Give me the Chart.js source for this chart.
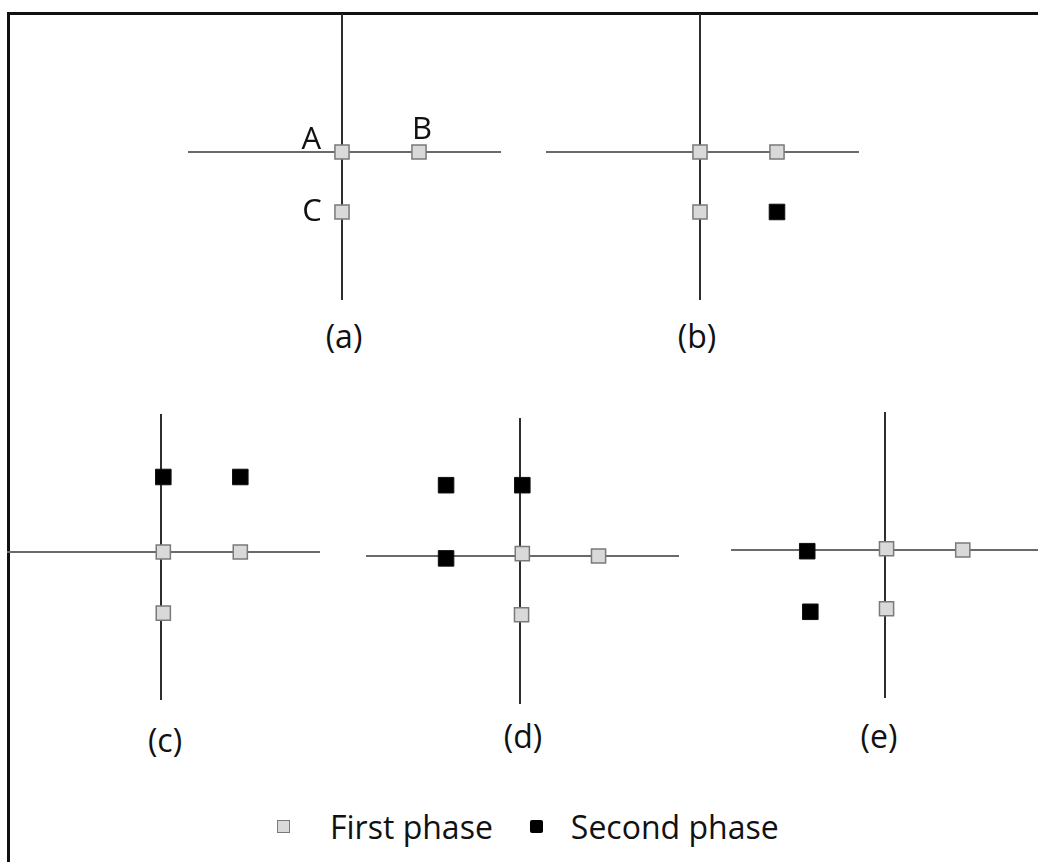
<!DOCTYPE html>
<html>
<head>
    <meta charset="UTF-8">
    <title>Phases</title>
    <script src="https://cdn.jsdelivr.net/npm/chart.js"></script>
    <style>
        * {
            font-family: "Open Sans", "Noto Sans", sans-serif;
        }
        html, body {
            margin: 0;
            padding: 0;
            width: 1038px;
            height: 862px;
            overflow: hidden;
            background: #fff;
        }
        .frame {
            position: absolute;
            left: 7px;
            top: 12px;
            width: 1100px;
            height: 900px;
            border-top: 3px solid #111;
            border-left: 3px solid #111;
        }
        .panel {
            position: absolute;
            width: 313px;
            height: 286px;
        }
        .caption {
            position: absolute;
            width: 100px;
            height: 40px;
            line-height: 40px;
            text-align: center;
            font-size: 32px;
            color: #111;
        }
        .legend {
            position: absolute;
            left: 277px;
            top: 804px;
            height: 44px;
            display: flex;
            align-items: center;
            font-size: 32px;
            color: #111;
        }
        .swatch {
            display: inline-block;
            box-sizing: border-box;
            width: 13px;
            height: 13px;
        }
    </style>
</head>
<body>
    <div class="frame"></div>
    <div id="panels"></div>
    <div class="legend" id="legend"></div>
    <script>
        // values in grid units: one step along each axis (origin at the crossing)
        const panelNames = ['(a)', '(b)', '(c)', '(d)', '(e)'];
        const seriesNames = ['First phase', 'Second phase'];

        const firstPhaseA = [{ x: 0, y: 0 }, { x: 1, y: 0 }, { x: 0, y: -1 }];
        const firstPhaseB = [{ x: 0, y: 0 }, { x: 1, y: 0 }, { x: 0, y: -1 }];
        const firstPhaseC = [{ x: 0.03, y: 0 }, { x: 1.03, y: 0 }, { x: 0.03, y: -1.02 }];
        const firstPhaseD = [{ x: 0.03, y: 0.04 }, { x: 1.02, y: 0 }, { x: 0.02, y: -0.98 }];
        const firstPhaseE = [{ x: 0.02, y: 0.02 }, { x: 1.01, y: 0 }, { x: 0.02, y: -0.98 }];

        const secondPhaseA = [];
        const secondPhaseB = [{ x: 1, y: -1 }];
        const secondPhaseC = [{ x: 0.03, y: 1.25 }, { x: 1.03, y: 1.25 }];
        const secondPhaseD = [{ x: -0.96, y: 1.18 }, { x: 0.03, y: 1.18 }, { x: -0.96, y: -0.04 }];
        const secondPhaseE = [{ x: -1.01, y: -0.02 }, { x: -0.97, y: -1.03 }];

        const pointLabels = ['A', 'B', 'C'];
        const pointLabelX = [-0.4, 1.04, -0.39];
        const pointLabelY = [0.2, 0.36, -1.0];

        const firstSets = [firstPhaseA, firstPhaseB, firstPhaseC, firstPhaseD, firstPhaseE];
        const secondSets = [secondPhaseA, secondPhaseB, secondPhaseC, secondPhaseD, secondPhaseE];

        // where each panel's crossing sits on the page
        const layout = [
            { cx: 342, cy: 152, lx: 344, ly: 336 },
            { cx: 700, cy: 152, lx: 697, ly: 336 },
            { cx: 161, cy: 552, lx: 165, ly: 740 },
            { cx: 520, cy: 556, lx: 523, ly: 736 },
            { cx: 885, cy: 550, lx: 879, ly: 736 }
        ];

        const X_MIN = -2, X_MAX = 2.065, Y_MIN = -2.467, Y_MAX = 2.3;
        const GRAY_FILL = '#d9d9d9', GRAY_EDGE = '#7a7a7a';

        const labelPlugin = {
            id: 'pointLabels',
            afterDatasetsDraw(chart, args, opts) {
                if (!opts.show) return;
                const { ctx, scales } = chart;
                ctx.save();
                ctx.font = '31px "Open Sans", "Noto Sans", sans-serif';
                ctx.fillStyle = '#111';
                ctx.textAlign = 'center';
                ctx.textBaseline = 'middle';
                pointLabels.forEach((t, i) => {
                    ctx.fillText(t, scales.x.getPixelForValue(pointLabelX[i]), scales.y.getPixelForValue(pointLabelY[i]));
                });
                ctx.restore();
            }
        };

        const panelsDiv = document.getElementById('panels');

        panelNames.forEach((name, i) => {
            const pos = layout[i];
            const box = document.createElement('div');
            box.className = 'panel';
            box.style.left = (pos.cx - 154) + 'px';
            box.style.top = (pos.cy - 138) + 'px';
            const canvas = document.createElement('canvas');
            box.appendChild(canvas);
            panelsDiv.appendChild(box);

            const cap = document.createElement('div');
            cap.className = 'caption';
            cap.style.left = (pos.lx - 50) + 'px';
            cap.style.top = (pos.ly - 20) + 'px';
            cap.innerText = name;
            panelsDiv.appendChild(cap);

            new Chart(canvas, {
                type: 'scatter',
                data: {
                    datasets: [{
                        label: seriesNames[0],
                        data: firstSets[i],
                        pointStyle: 'rect',
                        pointRadius: 10,
                        backgroundColor: GRAY_FILL,
                        borderColor: GRAY_EDGE,
                        borderWidth: 1.5
                    }, {
                        label: seriesNames[1],
                        data: secondSets[i],
                        pointStyle: 'rect',
                        pointRadius: 11,
                        backgroundColor: '#000',
                        borderColor: '#111',
                        borderWidth: 1
                    }]
                },
                options: {
                    responsive: true,
                    maintainAspectRatio: false,
                    animation: false,
                    events: [],
                    layout: { padding: 0, autoPadding: false },
                    plugins: {
                        legend: { display: false },
                        tooltip: { enabled: false },
                        pointLabels: { show: i === 0 }
                    },
                    scales: {
                        x: {
                            type: 'linear',
                            min: X_MIN,
                            max: X_MAX,
                            ticks: { display: false, stepSize: 1 },
                            border: { display: false },
                            grid: {
                                drawTicks: false,
                                lineWidth: 2,
                                color: (c) => c.tick && c.tick.value === 0 ? '#2e2e2e' : 'rgba(0,0,0,0)'
                            }
                        },
                        y: {
                            type: 'linear',
                            min: Y_MIN,
                            max: Y_MAX,
                            ticks: { display: false, stepSize: 1 },
                            border: { display: false },
                            grid: {
                                drawTicks: false,
                                lineWidth: 2,
                                color: (c) => c.tick && c.tick.value === 0 ? '#6a6a6a' : 'rgba(0,0,0,0)'
                            }
                        }
                    }
                },
                plugins: [labelPlugin]
            });
        });

        // legend below the panels
        const legend = document.getElementById('legend');
        seriesNames.forEach((name, i) => {
            const sw = document.createElement('span');
            sw.className = 'swatch';
            if (i === 0) {
                sw.style.background = GRAY_FILL;
                sw.style.border = '1.5px solid ' + GRAY_EDGE;
                sw.style.marginRight = '40px';
            } else {
                sw.style.background = '#000';
                sw.style.borderRadius = '2px';
                sw.style.marginRight = '28px';
            }
            const txt = document.createElement('span');
            txt.innerText = name;
            txt.style.marginRight = i === 0 ? '37px' : '0';
            legend.appendChild(sw);
            legend.appendChild(txt);
        });
    </script>
</body>
</html>
